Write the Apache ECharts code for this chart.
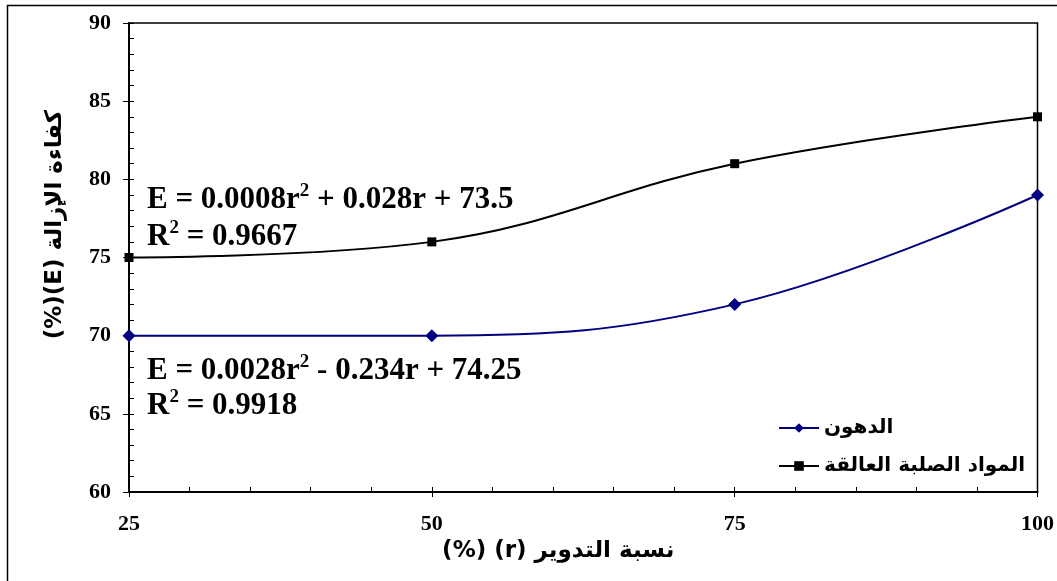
<!DOCTYPE html>
<html><head><meta charset="utf-8">
<script src="https://cdn.jsdelivr.net/npm/echarts@6/dist/echarts.min.js"></script>
<style>html,body{margin:0;padding:0;background:#fff}#c{width:1057px;height:581px}</style>
</head><body><div id="c"></div>
<script>
const categories = [25, 50, 75, 100];
const oilValues = [70, 70, 72, 79];
const tssValues = [75, 76, 81, 84];
const oilName = 'الدهون';
const tssName = 'المواد الصلبة العالقة';
const xAxisName = '\u202Bنسبة التدوير (r) (%)\u202C';
const yAxisName = '\u202Bكفاءة الإزالة (E)(%)\u202C';
const eqTss = ['E = 0.0008r', '2', ' + 0.028r + 73.5'];
const r2Tss = ['R', '2', ' = 0.9667'];
const eqOil = ['E = 0.0028r', '2', ' - 0.234r + 74.25'];
const r2Oil = ['R', '2', ' = 0.9918'];

const serif = '"Liberation Serif","Times New Roman",serif';
const chart = echarts.init(document.getElementById('c'));
const rich = {
  a: {fontFamily: serif, fontWeight: 'bold', fontSize: 31, fill: '#000', color: '#000'},
  s: {fontFamily: serif, fontWeight: 'bold', fontSize: 19, fill: '#000', color: '#000', verticalAlign: 'top', padding: [0,0,16,0]}
};
function eq(parts, x, y) {
  return {type: 'text', left: x, top: y - 19, z: 10,
    style: {text: '{a|' + parts[0] + '}{s|' + parts[1] + '}{a|' + parts[2] + '}', rich: rich}};
}
const axisCommon = {
  type: 'value', splitLine: {show: false},
  axisLine: {show: true, lineStyle: {color: '#000', width: 2}}
};
chart.setOption({
  animation: false,
  backgroundColor: '#fff',
  grid: {left: 129, top: 23, right: 16, bottom: 89, show: true, borderColor: '#000', borderWidth: 1.5, backgroundColor: 'transparent'},
  xAxis: [
    Object.assign({}, axisCommon, {
      min: 25, max: 100, interval: 25,
      axisTick: {show: true, inside: false, length: 5, lineStyle: {color: '#000', width: 1}},
      axisLabel: {fontFamily: serif, fontWeight: 'bold', fontSize: 22, color: '#000', margin: 21},
      name: xAxisName, nameLocation: 'middle', nameGap: 36,
      nameTextStyle: {fontFamily: '"DejaVu Sans", sans-serif', fontWeight: 'bold', fontSize: 23, color: '#000', padding: [0, 50, 0, 0]}
    }),
    Object.assign({}, axisCommon, {
      min: 25, max: 100, interval: 25, position: 'bottom',
      axisLine: {show: false},
      axisTick: {show: true, inside: true, length: 5, lineStyle: {color: '#000', width: 1}},
      minorTick: {show: true, splitNumber: 5, length: 5, lineStyle: {color: '#000', width: 1}},
      axisLabel: {show: false}
    })
  ],
  yAxis: [
    Object.assign({}, axisCommon, {
      min: 60, max: 90, interval: 5,
      axisTick: {show: true, inside: false, length: 6, lineStyle: {color: '#000', width: 1}},
      axisLabel: {fontFamily: serif, fontWeight: 'bold', fontSize: 22, color: '#000', margin: 18},
      name: yAxisName, nameLocation: 'middle', nameGap: 62, nameRotate: 90,
      nameTextStyle: {fontFamily: '"DejaVu Sans", sans-serif', fontWeight: 'bold', fontSize: 23, color: '#000', padding: [0, 0, 0, 66]}
    }),
    Object.assign({}, axisCommon, {
      min: 60, max: 90, interval: 5, position: 'left',
      axisLine: {show: false},
      axisTick: {show: true, inside: true, length: 5, lineStyle: {color: '#000', width: 1}},
      minorTick: {show: true, splitNumber: 5, length: 5, lineStyle: {color: '#000', width: 1}},
      axisLabel: {show: false}
    })
  ],
  legend: {
    orient: 'vertical', left: 773, top: 413, itemWidth: 40, itemHeight: 12, itemGap: 18,
    textStyle: {fontFamily: '"DejaVu Sans", sans-serif', fontWeight: 'bold', fontSize: 20, color: '#000'},
    data: [oilName, tssName]
  },
  series: [
    {name: oilName, type: 'line', smooth: 0.4, xAxisIndex: 0, yAxisIndex: 0,
     data: categories.map((c, i) => [c, oilValues[i]]),
     symbol: 'diamond', symbolSize: 13, showAllSymbol: true,
     lineStyle: {color: '#000080', width: 2}, itemStyle: {color: '#000080'}},
    {name: tssName, type: 'line', smooth: 0.4, xAxisIndex: 0, yAxisIndex: 0,
     data: categories.map((c, i) => [c, tssValues[i]]),
     symbol: 'rect', symbolSize: 9,
     lineStyle: {color: '#000', width: 2}, itemStyle: {color: '#000'}}
  ],
  graphic: [
    {type: 'rect', shape: {x: 7.5, y: 5.5, width: 1200, height: 800}, style: {fill: 'none', stroke: '#000', lineWidth: 1.5}, silent: true},
    eq(eqTss, 147, 201),
    eq(r2Tss, 147, 238),
    eq(eqOil, 147, 372),
    eq(r2Oil, 147, 407)
  ]
});
</script></body></html>
